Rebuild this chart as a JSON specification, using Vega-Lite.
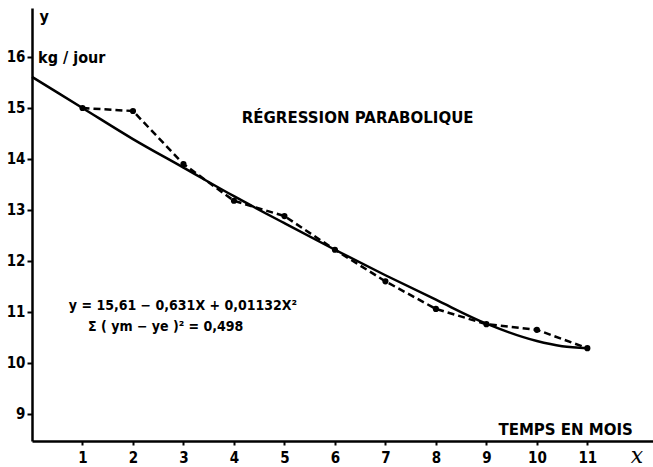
{
  "$schema": "https://vega.github.io/schema/vega-lite/v6.json",
  "width": 621,
  "height": 433,
  "autosize": {"type": "none"},
  "padding": {"left": 32, "top": 8, "right": 0, "bottom": 26},
  "background": "white",
  "config": {
    "view": {"stroke": null},
    "axis": {
      "domainColor": "black",
      "domainWidth": 2.5,
      "tickColor": "black",
      "tickWidth": 2,
      "grid": false,
      "labelColor": "black",
      "labelFont": "DejaVu Sans Condensed",
      "labelFontWeight": "bold",
      "labelFontSize": 15,
      "title": null
    },
    "text": {"font": "DejaVu Sans Condensed", "fontWeight": "bold", "color": "black"}
  },
  "datasets": {
    "curve": [
      {"x": 0, "y": 15.61}, {"x": 1, "y": 15.0}, {"x": 2, "y": 14.39}, {"x": 3, "y": 13.83},
      {"x": 4, "y": 13.27}, {"x": 5, "y": 12.74}, {"x": 6, "y": 12.22}, {"x": 7, "y": 11.72},
      {"x": 8, "y": 11.24}, {"x": 9, "y": 10.77}, {"x": 10, "y": 10.43}, {"x": 10.5, "y": 10.33},
      {"x": 11, "y": 10.29}
    ],
    "obs": [
      {"x": 1, "y": 15.0}, {"x": 2, "y": 14.94}, {"x": 3, "y": 13.9}, {"x": 4, "y": 13.18},
      {"x": 5, "y": 12.88}, {"x": 6, "y": 12.22}, {"x": 7, "y": 11.6}, {"x": 8, "y": 11.06},
      {"x": 9, "y": 10.76}, {"x": 10, "y": 10.65}, {"x": 11, "y": 10.29}
    ]
  },
  "layer": [
    {
      "data": {"name": "curve"},
      "mark": {"type": "line", "color": "black", "strokeWidth": 2.5, "interpolate": "monotone"},
      "encoding": {
        "x": {
          "field": "x", "type": "quantitative",
          "scale": {"domain": [0, 12.3], "nice": false, "zero": false},
          "axis": {"values": [1,2,3,4,5,6,7,8,9,10,11], "tickSize": 4, "labelPadding": 5, "format": "d"}
        },
        "y": {
          "field": "y", "type": "quantitative",
          "scale": {"domain": [8.47, 16.96], "nice": false, "zero": false},
          "axis": {"values": [9,10,11,12,13,14,15,16], "tickSize": 5, "labelPadding": 2, "format": "d"}
        }
      }
    },
    {
      "data": {"name": "obs"},
      "mark": {"type": "line", "color": "black", "strokeWidth": 2.5, "strokeDash": [7, 4],
               "point": {"filled": true, "color": "black", "size": 38}},
      "encoding": {
        "x": {"field": "x", "type": "quantitative"},
        "y": {"field": "y", "type": "quantitative"}
      }
    },
    {
      "data": {"values": [{"x": 0.15, "y": 16.78, "t": "y"}, {"x": 0.12, "y": 15.98, "t": "kg / jour"}]},
      "mark": {"type": "text", "align": "left", "baseline": "middle", "fontSize": 16},
      "encoding": {
        "x": {"field": "x", "type": "quantitative"},
        "y": {"field": "y", "type": "quantitative"},
        "text": {"field": "t"}
      }
    },
    {
      "data": {"values": [{"x": 0.73, "y": 11.12, "t": "y = 15,61 − 0,631X + 0,01132X²"}, {"x": 1.11, "y": 10.7, "t": "Σ ( ym − ye )² = 0,498"}]},
      "mark": {"type": "text", "align": "left", "baseline": "middle", "fontSize": 14},
      "encoding": {
        "x": {"field": "x", "type": "quantitative"},
        "y": {"field": "y", "type": "quantitative"},
        "text": {"field": "t"}
      }
    },
    {
      "data": {"values": [{"x": 6.45, "y": 14.8, "t": "RÉGRESSION PARABOLIQUE"}, {"x": 10.57, "y": 8.68, "t": "TEMPS EN MOIS"}]},
      "mark": {"type": "text", "align": "center", "baseline": "middle", "fontSize": 15, "font": "DejaVu Sans", "fontWeight": "bold"},
      "encoding": {
        "x": {"field": "x", "type": "quantitative"},
        "y": {"field": "y", "type": "quantitative"},
        "text": {"field": "t"}
      }
    },
    {
      "data": {"values": [{"x": 11.98, "y": 8.17, "t": "x"}]},
      "mark": {"type": "text", "align": "center", "baseline": "middle", "fontSize": 22, "font": "DejaVu Serif", "fontStyle": "italic", "fontWeight": "normal"},
      "encoding": {
        "x": {"field": "x", "type": "quantitative"},
        "y": {"field": "y", "type": "quantitative"},
        "text": {"field": "t"}
      }
    }
  ]
}
